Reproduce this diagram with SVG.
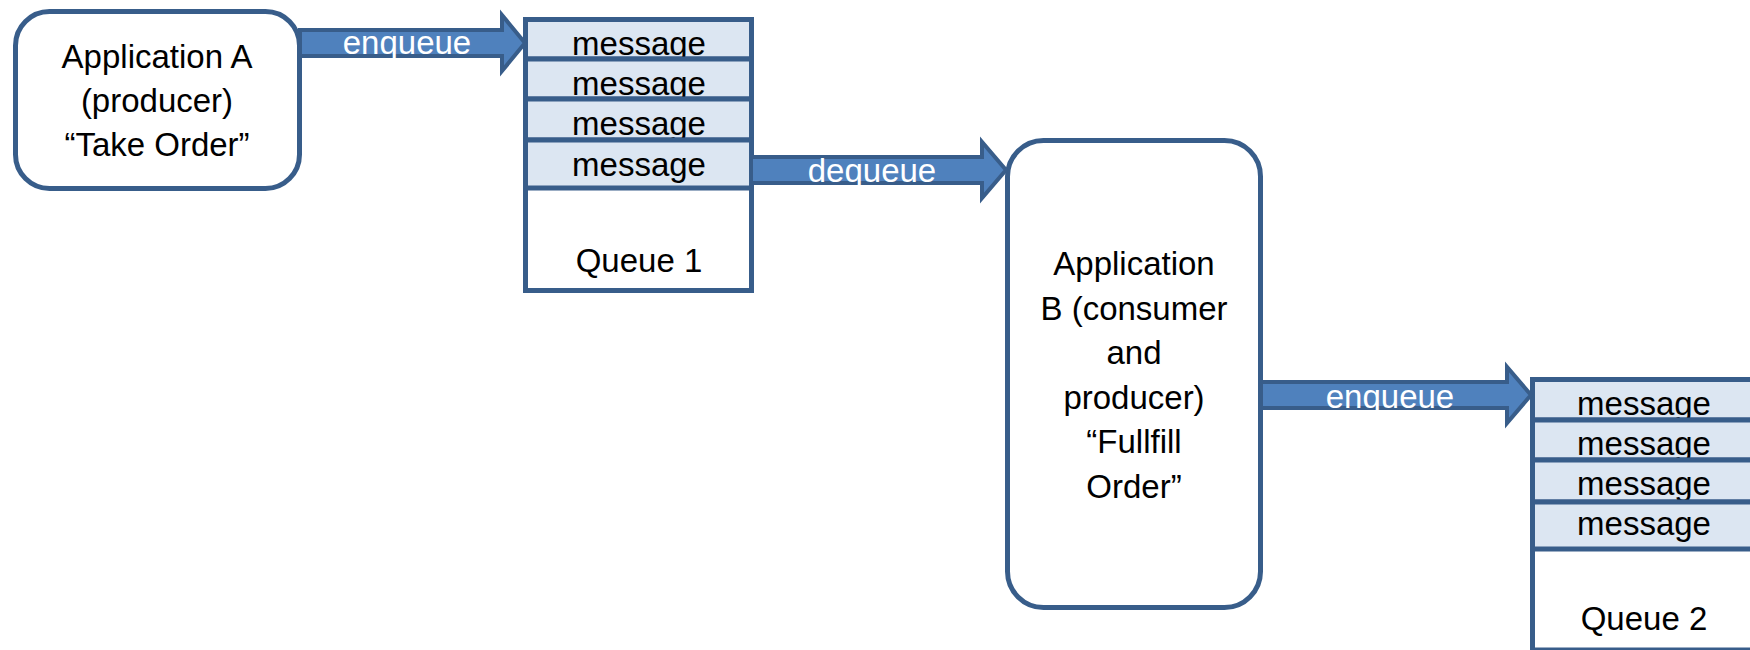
<svg xmlns="http://www.w3.org/2000/svg" width="1750" height="650" viewBox="0 0 1750 650">
  <style>
    .box { fill: #FFFFFF; stroke: #385D8A; stroke-width: 5; }
    .row { fill: #DCE6F2; stroke: #385D8A; stroke-width: 5; }
    .arrow { fill: #4F81BD; stroke: #385D8A; stroke-width: 4; stroke-linejoin: miter; }
    .t { font-family: "Liberation Sans", Arial, sans-serif; font-size: 33px; fill: #000000; text-anchor: middle; }
    .at { font-family: "Liberation Sans", Arial, sans-serif; font-size: 33px; fill: #FFFFFF; text-anchor: middle; }
  </style>
  <defs>
    <clipPath id="c1"><rect x="298" y="28" width="206" height="30"/></clipPath>
    <clipPath id="c2"><rect x="749" y="155" width="235" height="30"/></clipPath>
    <clipPath id="c3"><rect x="1259" y="380" width="250" height="30"/></clipPath>
  </defs>

  <g id="appA">
    <rect class="box" x="15.5" y="11.5" width="284" height="177" rx="34" ry="34"/>
    <text class="t" x="157" y="68">Application A</text>
    <text class="t" x="157" y="112">(producer)</text>
    <text class="t" x="157" y="156">“Take Order”</text>
  </g>

  <g id="queue1">
    <rect class="box" x="525.5" y="19.5" width="226" height="271"/>
    <rect class="row" x="525.5" y="19.5" width="226" height="39.5"/>
    <text class="t" x="639" y="55">message</text>
    <rect class="row" x="525.5" y="59" width="226" height="40"/>
    <text class="t" x="639" y="95">message</text>
    <rect class="row" x="525.5" y="99" width="226" height="41"/>
    <text class="t" x="639" y="135">message</text>
    <rect class="row" x="525.5" y="140" width="226" height="48"/>
    <text class="t" x="639" y="176">message</text>
    <text class="t" x="639" y="272">Queue 1</text>
  </g>

  <g id="appB">
    <rect class="box" x="1007.5" y="140.5" width="253" height="467" rx="36" ry="36"/>
    <text class="t" x="1134" y="275">Application</text>
    <text class="t" x="1134" y="319.6">B (consumer</text>
    <text class="t" x="1134" y="364.2">and</text>
    <text class="t" x="1134" y="408.8">producer)</text>
    <text class="t" x="1134" y="453.4">“Fullfill</text>
    <text class="t" x="1134" y="498">Order”</text>
  </g>

  <g id="queue2">
    <rect class="box" x="1532.5" y="379.5" width="228" height="270.5"/>
    <rect class="row" x="1532.5" y="379.5" width="228" height="40.5"/>
    <text class="t" x="1644" y="415">message</text>
    <rect class="row" x="1532.5" y="420" width="228" height="40"/>
    <text class="t" x="1644" y="455">message</text>
    <rect class="row" x="1532.5" y="460" width="228" height="42"/>
    <text class="t" x="1644" y="495">message</text>
    <rect class="row" x="1532.5" y="502" width="228" height="47"/>
    <text class="t" x="1644" y="535">message</text>
    <text class="t" x="1644" y="630">Queue 2</text>
  </g>

  <g id="connectors">
    <g id="enqueue1">
      <polygon class="arrow" points="300,30 502,30 502,15 525,43 502,71 502,56 300,56"/>
      <text class="at" x="407" y="54" clip-path="url(#c1)">enqueue</text>
    </g>
    <g id="dequeue">
      <polygon class="arrow" points="751,157 982,157 982,142 1006,170 982,198 982,183 751,183"/>
      <text class="at" x="872" y="182" clip-path="url(#c2)">dequeue</text>
    </g>
    <g id="enqueue2">
      <polygon class="arrow" points="1261,382 1507,382 1507,367 1531,395 1507,423 1507,408 1261,408"/>
      <text class="at" x="1390" y="408" clip-path="url(#c3)">enqueue</text>
    </g>
  </g>
</svg>
